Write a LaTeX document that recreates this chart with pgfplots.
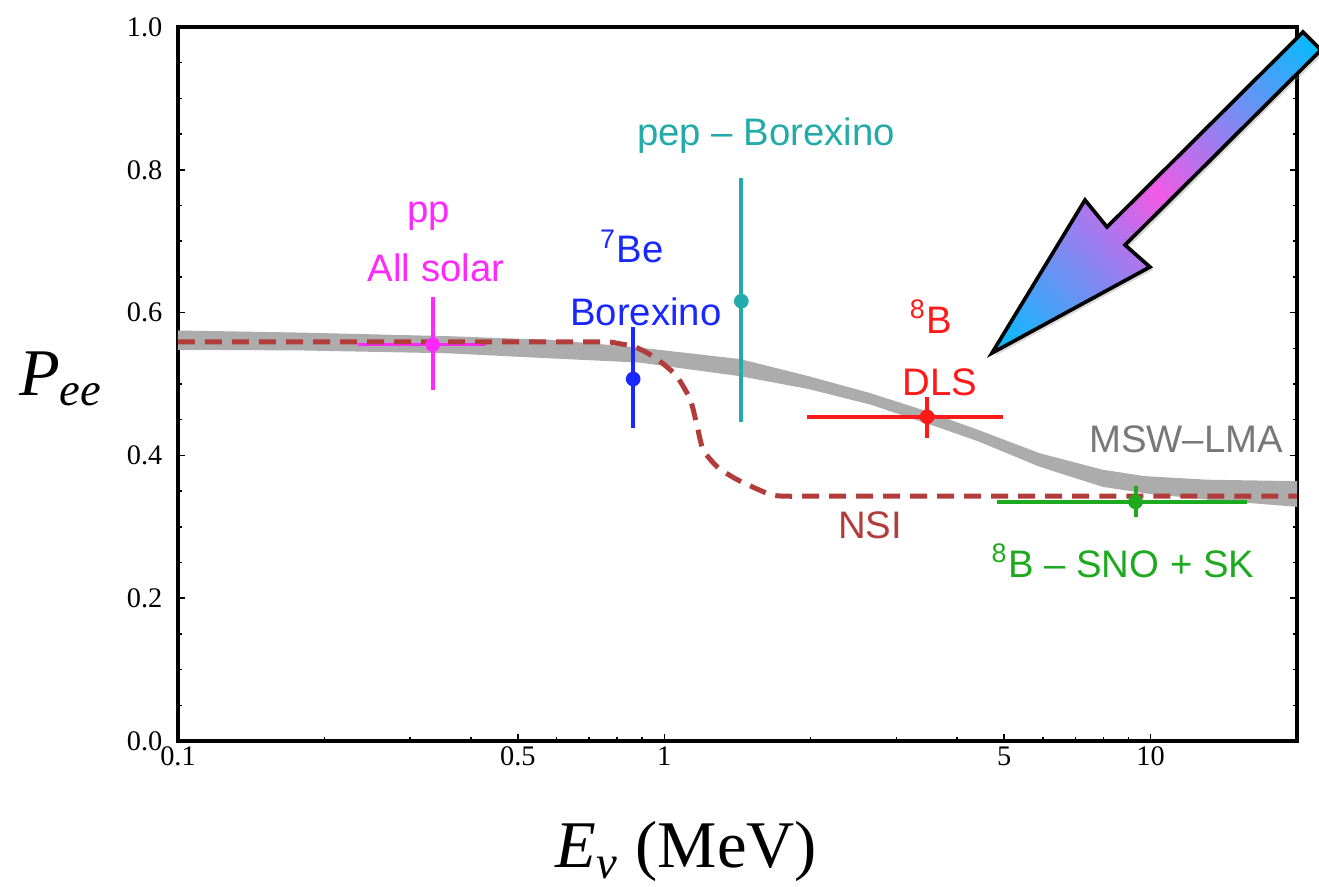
\documentclass[border=0pt]{standalone}
\usepackage{fontspec}
\setmainfont{Liberation Serif}
\setsansfont{Liberation Sans}
\usepackage{pgfplots}
\pgfplotsset{compat=1.18}
\usetikzlibrary{shadows}
\definecolor{ppmag}{RGB}{255,40,255}
\definecolor{beblue}{RGB}{25,40,255}
\definecolor{pepteal}{RGB}{35,170,170}
\definecolor{dlsred}{RGB}{255,25,25}
\definecolor{snogreen}{RGB}{30,170,30}
\definecolor{bandgray}{RGB}{172,172,172}
\definecolor{lmagray}{RGB}{120,120,120}
\definecolor{nsired}{RGB}{178,60,58}
\definecolor{arrcyan}{RGB}{0,190,255}
\definecolor{arrmag}{RGB}{240,90,230}
\pgfdeclareverticalshading{arrowshade}{100bp}{color(0bp)=(arrcyan); color(15bp)=(arrcyan); color(50bp)=(arrmag); color(85bp)=(arrcyan); color(100bp)=(arrcyan)}
\newcommand{\annfont}{\sffamily\fontsize{11.5}{13}\selectfont}
\begin{document}
\begin{tikzpicture}
\begin{axis}[
  name=ax,
  width=335.7pt, height=214.2pt, scale only axis,
  xmode=log, xmin=0.1, xmax=20, ymin=0, ymax=1,
  clip=false,
  axis line style={line width=1.1pt},
  xtick={0.1,0.5,1,5,10}, xticklabels={0.1,0.5,1,5,10},
  minor xtick={0.2,0.3,0.4,0.6,0.7,0.8,0.9,2,3,4,6,7,8,9},
  xtick pos=left,
  ytick={0,0.2,0.4,0.6,0.8,1}, yticklabels={0.0,0.2,0.4,0.6,0.8,1.0},
  minor ytick={0.05,0.1,0.15,0.25,0.3,0.35,0.45,0.5,0.55,0.65,0.7,0.75,0.85,0.9,0.95},
  ytick pos=both,
  tick align=inside,
  major tick length=2.1pt, minor tick length=1.3pt,
  every tick/.style={black, line width=0.45pt},
  /pgf/number format/assume math mode=true,
  ticklabel style={font=\fontsize{8.5}{10}\selectfont},
  xticklabel style={inner sep=0pt, yshift=-1.5pt},
  yticklabel style={inner sep=0pt, xshift=-4.5pt},
]
% MSW-LMA band
\addplot[draw=none, fill=bandgray] coordinates {
(0.1,0.575) (0.18,0.572) (0.36,0.567) (0.58,0.562) (0.89,0.551) (1.43,0.535) (1.98,0.511) (2.66,0.487) (3.46,0.462) (4.41,0.436) (5.92,0.403) (7.97,0.380) (9.72,0.371) (13.1,0.366) (20,0.364)
(20,0.328) (13.1,0.338) (9.72,0.347) (7.97,0.356) (5.92,0.384) (4.41,0.420) (3.46,0.445) (2.66,0.471) (1.98,0.493) (1.43,0.511) (0.89,0.530) (0.58,0.536) (0.36,0.543) (0.18,0.547) (0.1,0.548)
} -- cycle;
% pp horizontal bar
\addplot[ppmag, line width=0.9pt] coordinates {(0.234,0.555) (0.429,0.555)};
% NSI
\addplot[nsired, line width=1.5pt, dash pattern=on 5.1pt off 3pt, smooth, tension=0.4] coordinates {
(0.1,0.559) (0.5,0.559) (0.75,0.559) (0.801,0.557) (0.87,0.552) (0.936,0.541) (1.0,0.527) (1.063,0.510) (1.131,0.478) (1.169,0.440) (1.202,0.408) (1.285,0.384) (1.413,0.366) (1.627,0.347) (1.755,0.343) (2.5,0.343) (20,0.343)};
% pp
\addplot[ppmag, line width=1.2pt] coordinates {(0.334,0.492) (0.334,0.622)};
\addplot[only marks, mark=*, mark size=2pt, ppmag] coordinates {(0.334,0.555)};
% 7Be
\addplot[beblue, line width=1.2pt] coordinates {(0.863,0.438) (0.863,0.580)};
\addplot[only marks, mark=*, mark size=2pt, beblue] coordinates {(0.863,0.507)};
% pep
\addplot[pepteal, line width=1.2pt] coordinates {(1.44,0.447) (1.44,0.789)};
\addplot[only marks, mark=*, mark size=2pt, pepteal] coordinates {(1.44,0.616)};
% 8B DLS
\addplot[dlsred, line width=1.2pt] coordinates {(1.97,0.454) (4.97,0.454)};
\addplot[dlsred, line width=1.2pt] coordinates {(3.47,0.424) (3.47,0.482)};
\addplot[only marks, mark=*, mark size=2pt, dlsred] coordinates {(3.47,0.454)};
% 8B SNO+SK
\addplot[snogreen, line width=1.2pt] coordinates {(4.83,0.335) (15.8,0.335)};
\addplot[snogreen, line width=1.2pt] coordinates {(9.31,0.314) (9.31,0.357)};
\addplot[only marks, mark=*, mark size=2pt, snogreen] coordinates {(9.31,0.335)};
% labels
\node[anchor=base, text=ppmag, font=\annfont] at (rel axis cs:0.2243,0.7269) {pp};
\node[anchor=base, text=ppmag, font=\annfont] at (rel axis cs:0.2306,0.6429) {All solar};
\node[anchor=base, text=beblue, font=\annfont] at (rel axis cs:0.4057,0.6695) {\textsuperscript{7}Be};
\node[anchor=base, text=beblue, font=\annfont] at (rel axis cs:0.4182,0.5826) {Borexino};
\node[anchor=base, text=pepteal, font=\annfont] at (rel axis cs:0.5255,0.8347) {pep – Borexino};
\node[anchor=base, text=dlsred, font=\annfont] at (rel axis cs:0.6729,0.5714) {\textsuperscript{8}B};
\node[anchor=base, text=dlsred, font=\annfont] at (rel axis cs:0.6810,0.4846) {DLS};
\node[anchor=base, text=lmagray, font=\annfont] at (rel axis cs:0.9008,0.4034) {MSW–LMA};
\node[anchor=base, text=nsired, font=\annfont] at (rel axis cs:0.6184,0.2843) {NSI};
\node[anchor=base, text=snogreen, font=\annfont] at (rel axis cs:0.8445,0.2297) {\textsuperscript{8}B – SNO + SK};
% axis labels
\node[anchor=base, font=\fontsize{20}{24}\selectfont] at (rel axis cs:-0.1046,0.4846) {\textit{P}\textsubscript{\textit{ee}}};
\node[anchor=base, font=\fontsize{20}{24}\selectfont] at (rel axis cs:0.4544,-0.1775) {\textit{E}\textsubscript{\textit{ν}} (MeV)};
% arrow coordinates
\coordinate (aT) at (rel axis cs:0.7274,0.5434);
\coordinate (aBL) at (rel axis cs:0.8105,0.7577);
\coordinate (aNL) at (rel axis cs:0.8302,0.7199);
\coordinate (aTL) at (rel axis cs:1.0054,0.9930);
\coordinate (aTR) at (rel axis cs:1.0214,0.9678);
\coordinate (aNR) at (rel axis cs:0.8463,0.6947);
\coordinate (aBR) at (rel axis cs:0.8686,0.6639);
\coordinate (bbSW) at (rel axis cs:-0.15907,-0.20308);
\coordinate (bbNE) at (rel axis cs:1.01966,1.03782);
\end{axis}
\shadedraw[shading=arrowshade, shading angle=-46, line width=1.1pt, line join=miter,
  drop shadow={opacity=0.3, shadow xshift=0.9pt, shadow yshift=-0.9pt}]
  (aT) -- (aBL) -- (aNL) -- (aTL) -- (aTR) -- (aNR) -- (aBR) -- cycle;
\pgfresetboundingbox
\path[use as bounding box] (bbSW) rectangle (bbNE);
\end{tikzpicture}
\end{document}
